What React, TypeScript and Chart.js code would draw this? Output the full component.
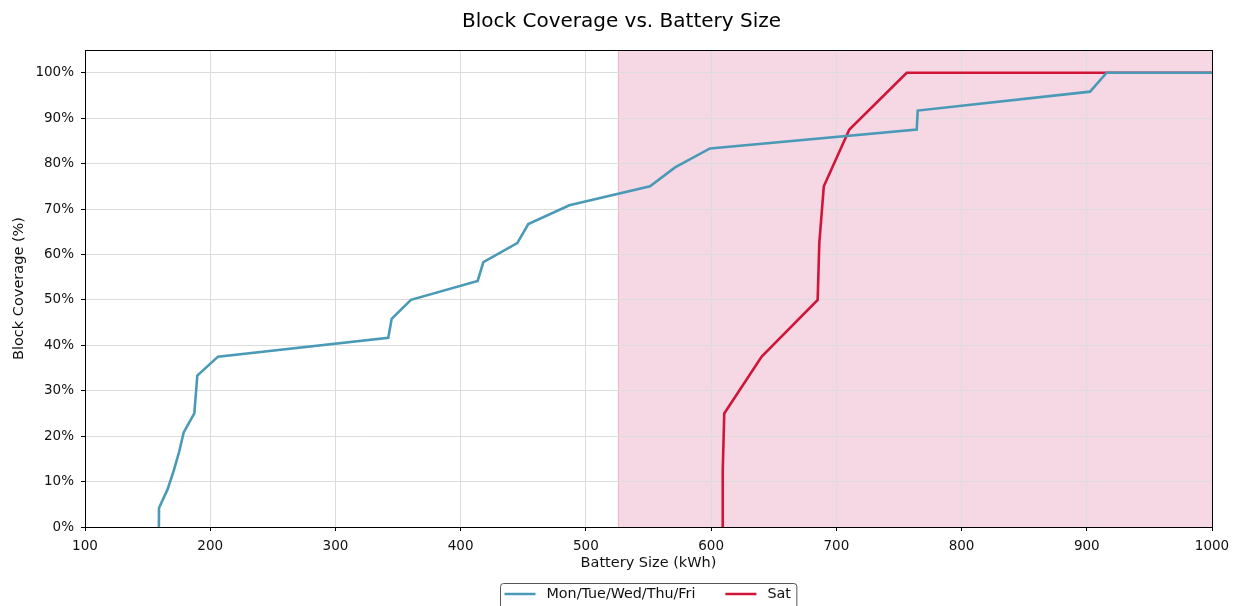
import React, { useEffect, useRef } from "react";
import { Chart, registerables } from "chart.js";

Chart.register(...registerables);

const TITLE = "Block Coverage vs. Battery Size";
const X_LABEL = "Battery Size (kWh)";
const Y_LABEL = "Block Coverage (%)";

const X_TICKS = [100, 200, 300, 400, 500, 600, 700, 800, 900, 1000];
const Y_TICKS = [0, 10, 20, 30, 40, 50, 60, 70, 80, 90, 100];

const SHADE_START = 525.5;
const SHADE_END = 1000;

const WEEKDAY_LABEL = "Mon/Tue/Wed/Thu/Fri";
const WEEKDAY_X = [159, 159.1, 166, 171, 175.3, 178.8, 187.3, 189.7, 206.2, 342.2, 344.9, 360.3, 413.6, 418.1, 445.2, 454.0, 486.8, 551.2, 571.2, 599.1, 764.2, 765, 902.6, 915.9, 1000];
const WEEKDAY_Y = [0, 4.17, 8.33, 12.5, 16.67, 20.83, 25, 33.33, 37.5, 41.67, 45.83, 50, 54.17, 58.33, 62.5, 66.67, 70.83, 75, 79.17, 83.33, 87.5, 91.67, 95.83, 100, 100];

const SAT_LABEL = "Sat";
const SAT_X = [609, 609.3, 610.5, 640.4, 685.1, 686.4, 690.0, 710.4, 756.2, 1000];
const SAT_Y = [0, 12.5, 25, 37.5, 50, 62.5, 75, 87.5, 100, 100];

const BLUE = "#4a9ab7";
const RED = "#d01539";
const FONT = "'DejaVu Sans', sans-serif";
const TICK_SIZE = 13.5;
const LABEL_SIZE = 14.5;
const LEGEND_SIZE = 14.3;
const TITLE_SIZE = 20;

const shadePlugin = {
  id: "shade",
  beforeDraw(chart: any) {
    const { ctx, chartArea, scales } = chart;
    const x0 = scales.x.getPixelForValue(SHADE_START);
    const x1 = scales.x.getPixelForValue(SHADE_END);
    ctx.save();
    ctx.fillStyle = "rgb(245, 216, 228)";
    ctx.fillRect(x0, chartArea.top, x1 - x0, chartArea.bottom - chartArea.top);
    ctx.strokeStyle = "rgba(235, 160, 190, 0.6)";
    ctx.lineWidth = 1;
    ctx.beginPath();
    ctx.moveTo(Math.round(x0) + 0.5, chartArea.top);
    ctx.lineTo(Math.round(x0) + 0.5, chartArea.bottom);
    ctx.stroke();
    ctx.restore();
  },
};

const framePlugin = {
  id: "frame",
  afterDraw(chart: any) {
    const { ctx, chartArea } = chart;
    ctx.save();
    ctx.strokeStyle = "#000";
    ctx.lineWidth = 1;
    ctx.strokeRect(
      Math.round(chartArea.left) + 0.5,
      Math.round(chartArea.top) + 0.5,
      Math.round(chartArea.right - chartArea.left),
      Math.round(chartArea.bottom - chartArea.top)
    );
    ctx.restore();
  },
};

const legendPlugin = {
  id: "customLegend",
  afterDraw(chart: any) {
    const { ctx, chartArea } = chart;
    const lineLen = 31;
    const gapText = 11;
    const gapItem = 30;
    const padL = 4;
    const padR = 6;
    ctx.save();
    ctx.font = `${LEGEND_SIZE}px ${FONT}`;
    const items = chart.data.datasets.map((ds: any) => ({
      label: ds.label,
      color: ds.borderColor,
      w: ctx.measureText(ds.label).width,
    }));
    let total = padL + padR;
    items.forEach((it: any, i: number) => {
      total += lineLen + gapText + it.w + (i < items.length - 1 ? gapItem : 0);
    });
    const center = (chartArea.left + chartArea.right) / 2;
    const left = Math.round(center - total / 2) + 0.5;
    const top = 583.5;
    const cy = 594;
    ctx.strokeStyle = "#555";
    ctx.lineWidth = 1;
    ctx.fillStyle = "#fff";
    ctx.beginPath();
    const r = 3;
    const h = 40;
    ctx.moveTo(left + r, top);
    ctx.lineTo(left + total - r, top);
    ctx.arcTo(left + total, top, left + total, top + r, r);
    ctx.lineTo(left + total, top + h);
    ctx.lineTo(left, top + h);
    ctx.lineTo(left, top + r);
    ctx.arcTo(left, top, left + r, top, r);
    ctx.closePath();
    ctx.fill();
    ctx.stroke();
    let x = left + padL;
    items.forEach((it: any) => {
      ctx.strokeStyle = it.color;
      ctx.lineWidth = 2.5;
      ctx.beginPath();
      ctx.moveTo(x, cy);
      ctx.lineTo(x + lineLen, cy);
      ctx.stroke();
      x += lineLen + gapText;
      ctx.fillStyle = "#111";
      ctx.textBaseline = "middle";
      ctx.textAlign = "left";
      ctx.fillText(it.label, x, cy);
      x += it.w + gapItem;
    });
    ctx.restore();
  },
};

export default function App() {
  const ref = useRef<HTMLCanvasElement | null>(null);

  useEffect(() => {
    document.body.style.margin = "0";
    document.body.style.overflow = "hidden";
    const canvas = ref.current;
    if (!canvas) return;
    const toPts = (xs: number[], ys: number[]) => xs.map((x, i) => ({ x, y: ys[i] }));
    const chart = new Chart(canvas, {
      type: "line",
      data: {
        datasets: [
          {
            label: WEEKDAY_LABEL,
            data: toPts(WEEKDAY_X, WEEKDAY_Y),
            borderColor: BLUE,
            backgroundColor: BLUE,
            borderWidth: 2.6,
            pointRadius: 0,
            tension: 0,
            fill: false,
          },
          {
            label: SAT_LABEL,
            data: toPts(SAT_X, SAT_Y),
            borderColor: RED,
            backgroundColor: RED,
            borderWidth: 2.6,
            pointRadius: 0,
            tension: 0,
            fill: false,
          },
        ],
      },
      options: {
        responsive: false,
        animation: false,
        devicePixelRatio: 1,
        layout: { padding: { top: 0, right: 0, bottom: 25, left: 5 } },
        plugins: {
          legend: { display: false },
          tooltip: { enabled: false },
          title: {
            display: true,
            text: TITLE,
            color: "#000",
            font: { family: FONT, size: TITLE_SIZE, weight: "normal" },
            padding: { top: 10, bottom: 16 },
          },
        },
        scales: {
          x: {
            type: "linear",
            min: 100,
            max: 1000,
            afterBuildTicks: (s: any) => {
              s.ticks = X_TICKS.map((v) => ({ value: v }));
            },
            afterFit: (s: any) => {
              s.height = 54;
            },
            grid: { color: "#dcdcdc", tickColor: "#000", tickLength: 4, lineWidth: 1 },
            border: { color: "#000", width: 1 },
            ticks: {
              color: "#111",
              font: { family: FONT, size: TICK_SIZE },
              padding: 7,
              maxRotation: 0,
              autoSkip: false,
              callback: (v: any) => String(v),
            },
            title: {
              display: true,
              text: X_LABEL,
              color: "#111",
              font: { family: FONT, size: LABEL_SIZE },
              padding: { top: 2, bottom: 9.3 },
            },
          },
          y: {
            type: "linear",
            min: 0,
            max: 105,
            afterBuildTicks: (s: any) => {
              s.ticks = Y_TICKS.map((v) => ({ value: v }));
            },
            afterFit: (s: any) => {
              s.width = 80;
            },
            grid: { color: "#dcdcdc", tickColor: "#000", tickLength: 4, lineWidth: 1 },
            border: { color: "#000", width: 1 },
            ticks: {
              color: "#111",
              font: { family: FONT, size: TICK_SIZE },
              padding: 7,
              autoSkip: false,
              callback: (v: any) => `${v}%`,
            },
            title: {
              display: true,
              text: Y_LABEL,
              color: "#111",
              font: { family: FONT, size: LABEL_SIZE },
              padding: { top: 5.3, bottom: 4 },
            },
          },
          yRight: {
            type: "linear",
            position: "right",
            display: true,
            min: 0,
            max: 105,
            afterFit: (s: any) => {
              s.width = 26;
            },
            grid: { display: false, drawTicks: false },
            border: { display: false },
            ticks: { display: false },
            title: { display: false },
          },
        },
      },
      plugins: [shadePlugin, framePlugin, legendPlugin],
    });
    return () => chart.destroy();
  }, []);

  return (
    <div style={{ position: "absolute", left: 0, top: 0, width: 1238, height: 606, overflow: "hidden", background: "#fff" }}>
      <canvas ref={ref} width={1238} height={606} style={{ display: "block", width: 1238, height: 606 }} />
    </div>
  );
}
